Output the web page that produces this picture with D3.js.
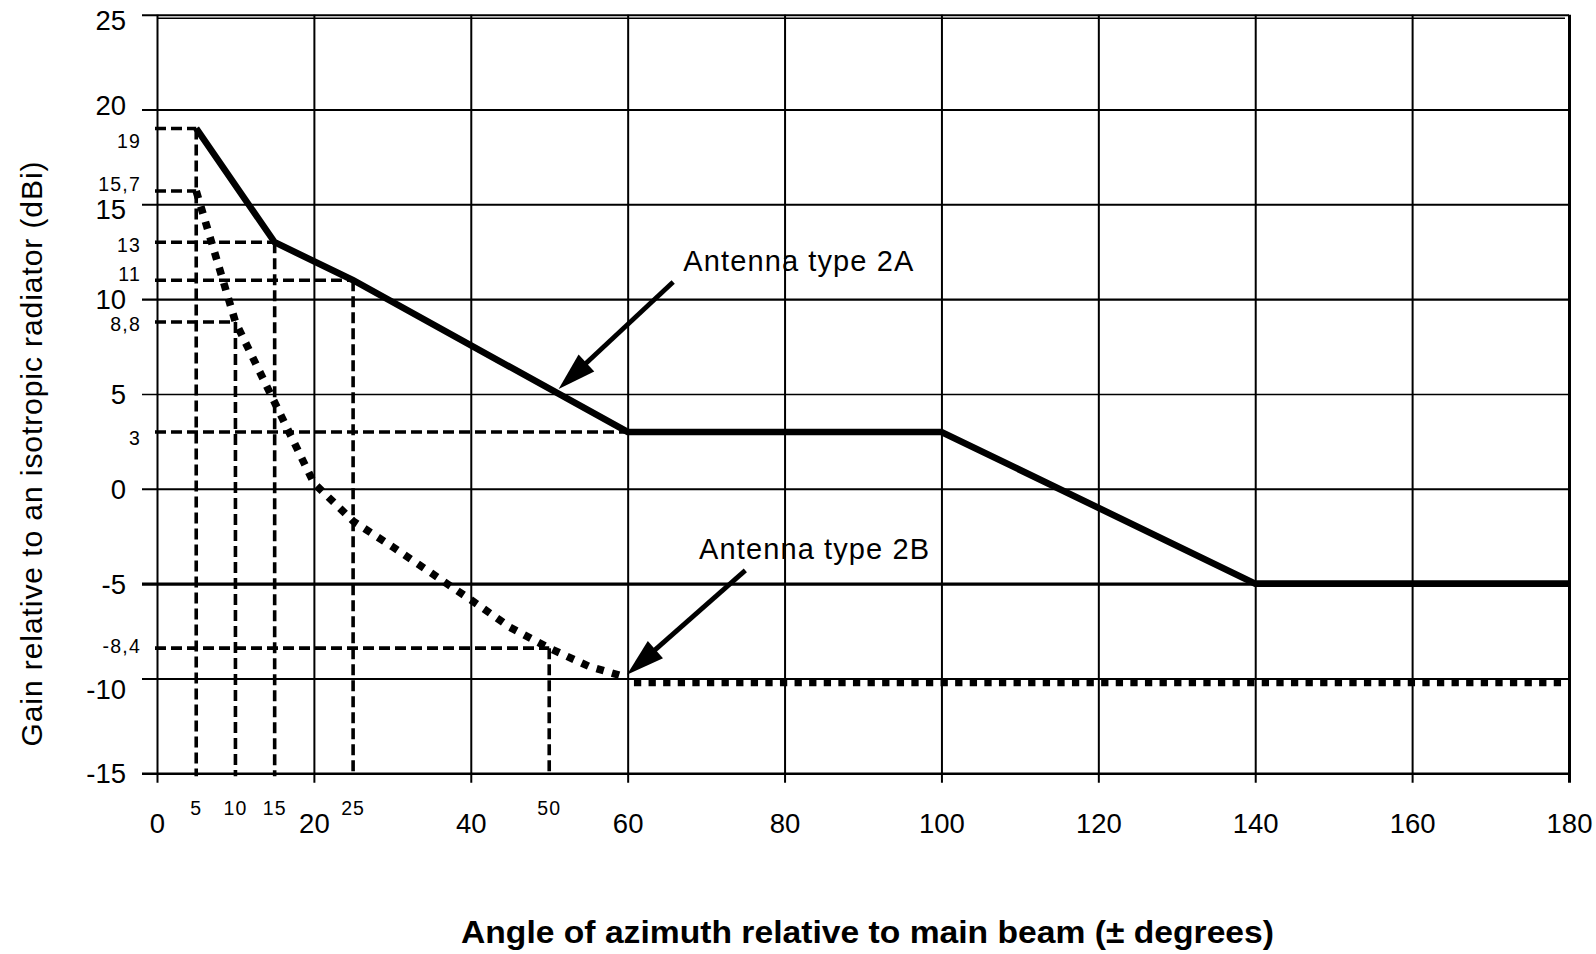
<!DOCTYPE html>
<html><head><meta charset="utf-8">
<script src="https://cdn.jsdelivr.net/npm/d3@7"></script>
<style>
body{margin:0;background:#fff;}
svg{display:block;font-family:"Liberation Sans",Arial,sans-serif;}
</style></head><body>
<svg id="chart" width="1596" height="954"></svg>
<script>
// ---------- data ----------
const xTicks = [0,20,40,60,80,100,120,140,160,180];
const yTicks = [-15,-10,-5,0,5,10,15,20,25];
const xMinorLabels = [5,10,15,25,50];

const type2A_angle = [5,15,25,60,100,140,180];
const type2A_gain  = [19,13,11,3,3,-5,-5];

const type2B_angle = [5,10,20,25,30,35,40,45,50,55,59.5];
const type2B_gain  = [15.7,8.8,0.3,-1.7,-3.05,-4.45,-5.85,-7.3,-8.4,-9.35,-9.9];
const type2B_floorAngle = [60.8,180];
const type2B_floorGain  = [-10,-10];

// dashed reference lines
const refGain      = [19,15.7,13,11,8.8,3,-8.4];
const refGainEnd   = [5,5,15,25,10,60,50];
const refGainLabel = ["19","15,7","13","11","8,8","3","-8,4"];
const refAngle     = [5,10,15,25,50];
const refAngleTop  = [19,8.8,13,11,-8.4];

// annotations
const annotText      = ["Antenna type 2A","Antenna type 2B"];
const annotTextAngle = [67.1,69.1];
const annotTextGain  = [11.5,-3.7];
const arrowTailAngle = [65.8,75.0];
const arrowTailGain  = [10.9,-4.3];
const arrowTipAngle  = [51.2,59.9];
const arrowTipGain   = [5.27,-9.8];

const xTitle = "Angle of azimuth relative to main beam (\u00B1 degrees)";
const yTitle = "Gain relative to an isotropic radiator (dBi)";

// ---------- style / layout ----------
const refLabelDy = [20,0,10,1,9,13,4.5];
const yLabelNudge = {25:5, 20:-5, 15:5, "-10":10};
const gridWidth = {"-5":3.2, 5:1.4, 10:2.4, "-15":2.4};

const svg = d3.select("#chart");
const x = d3.scaleLinear().domain([0,180]).range([157,1569]);
const y = d3.scaleLinear().domain([-15,25]).range([773.3,14.7]);
const fmt = d => String(d);

// y axis with full-width gridlines
const yAxisX = 142;
const gy = svg.append("g").attr("transform",`translate(${yAxisX},0)`)
  .call(d3.axisLeft(y).tickValues(yTicks).tickSizeInner(-(x.range()[1]-yAxisX)).tickSizeOuter(0).tickPadding(16).tickFormat(fmt));
gy.select(".domain").remove();
gy.selectAll(".tick line").attr("stroke","#000").attr("stroke-width",d=>gridWidth[d]||2);
gy.selectAll(".tick text").attr("font-size",27.5).attr("fill","#000")
  .attr("font-family","'Liberation Sans',Arial,sans-serif")
  .attr("dy",d=>(0.35*27.5+(yLabelNudge[d]||0))+"px");

// x axis with full-height gridlines
const xAxisY = 782.7;
const gx = svg.append("g").attr("transform",`translate(0,${xAxisY})`)
  .call(d3.axisBottom(x).tickValues(xTicks).tickSizeInner(-(xAxisY-y.range()[1])).tickSizeOuter(0).tickPadding(31).tickFormat(fmt));
gx.select(".domain").remove();
gx.selectAll(".tick line").attr("stroke","#000").attr("stroke-width",d=>d===180?3:2);
gx.selectAll(".tick text").attr("font-size",27.5).attr("fill","#000")
  .attr("font-family","'Liberation Sans',Arial,sans-serif");

// inner top frame line (double border)
svg.append("line").attr("x1",x(0)).attr("x2",x(180)-4)
  .attr("y1",y(25)+3.5).attr("y2",y(25)+3.5).attr("stroke","#000").attr("stroke-width",1.4);

// dashed reference lines
const dash = {stroke:"#000","stroke-width":3.6,"stroke-dasharray":"11,5"};
function applyAttrs(sel,o){for(const k in o) sel.attr(k,o[k]); return sel;}
refGain.forEach((g,i)=>{
  applyAttrs(svg.append("line").attr("x1",x(0)-2).attr("x2",x(refGainEnd[i])).attr("y1",y(g)).attr("y2",y(g)),dash);
  svg.append("text").attr("x",141).attr("y",y(g)+refLabelDy[i]).attr("text-anchor","end")
    .attr("font-size",19.5).attr("letter-spacing",1.2).text(refGainLabel[i]);
});
refAngle.forEach((a,i)=>{
  applyAttrs(svg.append("line").attr("x1",x(a)).attr("x2",x(a)).attr("y1",y(refAngleTop[i])).attr("y2",y(-15)+3),dash);
});
xMinorLabels.forEach(a=>{
  svg.append("text").attr("x",x(a)).attr("y",815).attr("text-anchor","middle")
    .attr("font-size",19.5).attr("letter-spacing",1).text(a);
});

// series
const line = d3.line().x(d=>x(d[0])).y(d=>y(d[1]));
const s2A = type2A_angle.map((a,i)=>[a,type2A_gain[i]]);
const s2B = type2B_angle.map((a,i)=>[a,type2B_gain[i]]);
const s2Bf = type2B_floorAngle.map((a,i)=>[a,type2B_floorGain[i]]);

svg.append("path").attr("d",line(s2A)).attr("fill","none").attr("stroke","#000")
  .attr("stroke-width",6.6).attr("stroke-linejoin","miter");
svg.append("path").attr("d",line(s2B)).attr("fill","none").attr("stroke","#000")
  .attr("stroke-width",7.6).attr("stroke-dasharray","7.5,8.5").attr("stroke-linecap","butt");
svg.append("path").attr("d",line(s2Bf)).attr("transform","translate(0,4.5)").attr("fill","none").attr("stroke","#000")
  .attr("stroke-width",6.5).attr("stroke-dasharray","7.3,7.3").attr("stroke-linecap","butt");

// annotations
annotText.forEach((t,i)=>{
  svg.append("text").attr("x",x(annotTextAngle[i])).attr("y",y(annotTextGain[i]))
    .attr("font-size",29).attr("textLength",230).attr("lengthAdjust","spacing").text(t);
  const tx=x(arrowTailAngle[i]), ty=y(arrowTailGain[i]), px=x(arrowTipAngle[i]), py=y(arrowTipGain[i]);
  const dx=px-tx, dy=py-ty, len=Math.hypot(dx,dy), ux=dx/len, uy=dy/len, nx=-uy, ny=ux;
  const L=38, hw=11.5, bx=px-ux*L, by=py-uy*L;
  svg.append("line").attr("x1",tx).attr("y1",ty).attr("x2",bx+ux*2).attr("y2",by+uy*2)
    .attr("stroke","#000").attr("stroke-width",4.8);
  svg.append("polygon").attr("points",[[px,py],[bx+nx*hw,by+ny*hw],[bx-nx*hw,by-ny*hw]].map(p=>p.join(",")).join(" "))
    .attr("fill","#000");
});

// titles
svg.append("text").attr("transform","translate(42,454) rotate(-90)").attr("text-anchor","middle")
  .attr("font-size",30).attr("textLength",585).attr("lengthAdjust","spacing").text(yTitle);
svg.append("text").attr("x",461).attr("y",943).attr("font-weight","bold")
  .attr("font-family","'Liberation Sans Narrow','Liberation Sans',Arial,sans-serif")
  .attr("font-size",31).attr("textLength",813).attr("lengthAdjust","spacingAndGlyphs").text(xTitle);
</script>
</body></html>
